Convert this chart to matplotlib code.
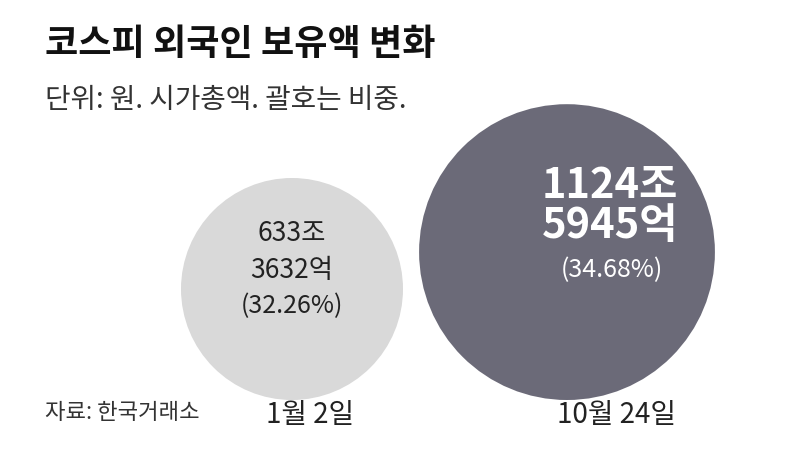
import matplotlib
matplotlib.use("Agg")
import matplotlib.pyplot as plt
from matplotlib.patches import Circle
import numpy as np

plt.rcParams['font.family'] = ['Noto Sans CJK KR', 'DejaVu Sans']

dates = ["1월 2일", "10월 24일"]
values = [633.3632, 1124.5945]  # 조 원
line1 = ["633조", "1124조"]
line2 = ["3632억", "5945억"]
shares = ["(32.26%)", "(34.68%)"]

fig = plt.figure(figsize=(8, 4.65), dpi=100)
ax = fig.add_axes([0, 0, 1, 1])
ax.set_xlim(0, 800)
ax.set_ylim(465, 0)
ax.axis('off')

k = 111 / np.sqrt(values[0])
centers_x = [292, 567]
date_x = [310, 616]
bottom = 400
colors = ['#d9d9d9', '#6b6a78']
for i, v in enumerate(values):
    r = k * np.sqrt(v)
    cy = bottom - r
    ax.add_patch(Circle((centers_x[i], cy), r, color=colors[i], lw=0))
    ax.text(date_x[i], 415, dates[i], ha='center', va='center', fontsize=20, color='#222222')

# left labels
ax.text(centers_x[0], 233, line1[0], ha='center', va='center', fontsize=19, color='#222222')
ax.text(centers_x[0], 270, line2[0], ha='center', va='center', fontsize=19, color='#222222')
ax.text(centers_x[0], 306, shares[0], ha='center', va='center', fontsize=18, color='#222222')
# right labels
ax.text(610, 186, line1[1], ha='center', va='center', fontsize=30, fontweight='bold', color='white')
ax.text(610, 226, line2[1], ha='center', va='center', fontsize=30, fontweight='bold', color='white')
ax.text(612, 270, shares[1], ha='center', va='center', fontsize=18, color='white')

ax.text(45, 45, "코스피 외국인 보유액 변화", ha='left', va='center', fontsize=26, fontweight='bold', color='#111111')
ax.text(45, 100, "단위: 원. 시가총액. 괄호는 비중.", ha='left', va='center', fontsize=20, color='#333333')
ax.text(45, 412, "자료: 한국거래소", ha='left', va='center', fontsize=16, color='#333333')

fig.savefig("out.png", dpi=100, facecolor='white')
